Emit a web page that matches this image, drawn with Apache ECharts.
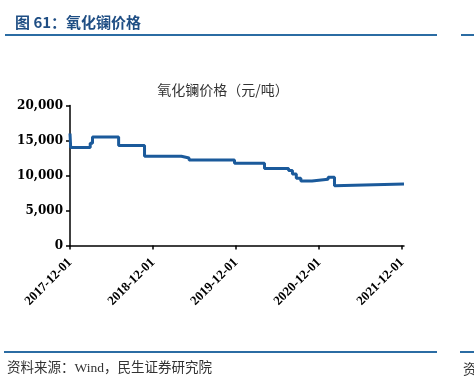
<!DOCTYPE html>
<html>
<head>
<meta charset="utf-8">
<script src="https://cdn.jsdelivr.net/npm/echarts@6/dist/echarts.min.js"></script>
<style>
html,body{margin:0;padding:0;background:#fff;}
#c{width:474px;height:390px;}
</style>
</head>
<body>
<div id="c"></div>
<script>
// Data: date where each price level begins, price in 元/吨
var dates = ['2017-12-01','2017-12-04','2018-02-28','2018-03-10','2018-07-03','2018-10-25',
             '2019-04-05','2019-05-09','2019-11-25','2020-04-05','2020-07-20','2020-08-06',
             '2020-08-23','2020-09-12','2020-10-31','2021-01-10','2021-02-07','2021-02-14','2021-12-10'];
var prices = [16000,14000,14600,15500,14300,12750,
              12500,12200,11750,11000,10700,10200,
              9600,9200,9450,9750,8550,8800,8800];
var xTickLabels = ['2017-12-01','2018-12-01','2019-12-01','2020-12-01','2021-12-01'];
var yTicks = [0,5000,10000,15000,20000];
var chartTitle = '氧化镧价格（元/吨）';
var figTitle = '图 61：氧化镧价格';
var sourceText = '资料来源：Wind，民生证券研究院';

// days since the first date (UTC based, no timezone drift)
function dayNum(s){ var p=s.split('-'); return Date.UTC(+p[0], +p[1]-1, +p[2]) / 86400000; }
var day0 = dayNum(dates[0]);
var seriesData = dates.map(function(d,i){ return [dayNum(d)-day0, prices[i]]; });
var tickVals = xTickLabels.map(function(s){ return dayNum(s)-day0; });

var chart = echarts.init(document.getElementById('c'), null, {renderer:'canvas'});
chart.setOption({
  animation:false,
  backgroundColor:'#ffffff',
  title:{
    text:chartTitle, left:218, top:78, textAlign:'center',
    textStyle:{fontFamily:'Noto Sans CJK SC', fontSize:14, fontWeight:'normal', color:'#333333'}
  },
  grid:{left:70, right:70, top:105.5, bottom:144.5, containLabel:false},
  xAxis:{
    type:'value',
    min:0, max:dayNum('2021-12-10')-day0,
    axisLine:{lineStyle:{color:'#000', width:1.5}},
    axisTick:{show:true, inside:false, length:4, customValues:tickVals, lineStyle:{color:'#000', width:1.5}},
    axisLabel:{
      customValues:tickVals, rotate:45, margin:15,
      fontFamily:'Liberation Serif', fontWeight:'bold', fontSize:13, color:'#000',
      formatter:function(v){ var i=tickVals.indexOf(v); return i>=0?xTickLabels[i]:''; }
    },
    splitLine:{show:false}
  },
  yAxis:{
    type:'value', min:yTicks[0], max:yTicks[yTicks.length-1], interval:5000,
    axisLine:{show:true, lineStyle:{color:'#000', width:1.5}},
    axisTick:{show:true, inside:false, length:4, lineStyle:{color:'#000', width:1.5}},
    axisLabel:{
      fontFamily:'DejaVu Serif', fontWeight:'bold', fontSize:12, color:'#000', margin:7,
      formatter:function(v){ return v.toLocaleString('en-US'); }
    },
    splitLine:{show:false}
  },
  series:[{
    type:'line', step:'end', data:seriesData, showSymbol:false, symbol:'none',
    lineStyle:{color:'#1B5A9B', width:3}, clip:false
  }],
  graphic:[
    {type:'text', left:15, top:15, style:{text:figTitle, fontFamily:'Noto Sans CJK SC', fontWeight:'bold', fontSize:15, fill:'#1F4E84'}},
    {type:'rect', shape:{x:5, y:34, width:432, height:2}, style:{fill:'#2B6CA3'}},
    {type:'rect', shape:{x:461, y:34, width:13, height:2}, style:{fill:'#2B6CA3'}},
    {type:'rect', shape:{x:4, y:351, width:433, height:2}, style:{fill:'#2B6CA3'}},
    {type:'rect', shape:{x:460, y:351, width:14, height:2}, style:{fill:'#2B6CA3'}},
    {type:'text', left:7, top:362, style:{text:sourceText, fontFamily:'Liberation Serif, Noto Sans CJK SC', fontSize:13.5, fill:'#333333'}},
    {type:'text', left:463, top:362, style:{text:sourceText.charAt(0), fontFamily:'Noto Sans CJK SC', fontSize:13.5, fill:'#333333'}}
  ]
});
</script>
</body>
</html>
